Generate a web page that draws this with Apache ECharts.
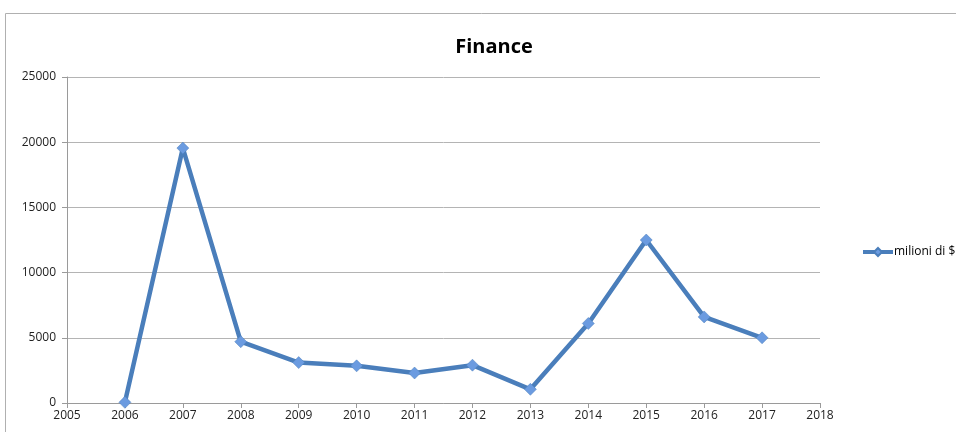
<!DOCTYPE html>
<html><head><meta charset="utf-8">
<script src="https://cdn.jsdelivr.net/npm/echarts@6/dist/echarts.min.js"></script>
<style>html,body{margin:0;padding:0;background:#fff}#c{width:956px;height:432px}</style>
</head><body><div id="c"></div>
<script>
const years = [2006, 2007, 2008, 2009, 2010, 2011, 2012, 2013, 2014, 2015, 2016, 2017];
const values = [50, 19550, 4700, 3100, 2850, 2300, 2900, 1050, 6100, 12500, 6600, 5000];
const seriesName = 'milioni di $';
const chartTitle = 'Finance';

const chart = echarts.init(document.getElementById('c'));
const font = '"Open Sans", "Liberation Sans", sans-serif';
chart.setOption({
  animation: false,
  title: { text: chartTitle, left: 489, textAlign: 'center', top: 32,
    textStyle: { fontFamily: font, fontSize: 20, fontWeight: 'bold', color: '#000' } },
  graphic: [{ type: 'rect', shape: { x: 5.5, y: 13.5, width: 960, height: 440 },
    style: { fill: 'none', stroke: '#b0b0b0', lineWidth: 1 }, silent: true }],
  legend: { orient: 'vertical', left: 856, top: 241, itemWidth: 30, itemHeight: 10, itemGap: 4,
    lineStyle: { width: 4 },
    textStyle: { fontFamily: font, fontSize: 12, color: '#000', padding: [0, 0, 0, -4] },
    data: [{ name: seriesName }] },
  grid: { left: 67, right: 136, top: 77, bottom: 29 },
  xAxis: { type: 'value', min: 2005, max: 2018, interval: 1,
    axisLine: { lineStyle: { color: '#9a9a9a', width: 1 } },
    axisTick: { show: true, length: 5, lineStyle: { color: '#9a9a9a' } },
    splitLine: { show: false },
    axisLabel: { fontFamily: font, fontSize: 12, color: '#222', margin: 7, formatter: v => String(v) } },
  yAxis: { type: 'value', min: 0, max: 25000, interval: 5000,
    axisLine: { show: true, lineStyle: { color: '#9a9a9a', width: 1 } },
    axisTick: { show: true, length: 5, lineStyle: { color: '#9a9a9a' } },
    splitLine: { lineStyle: { color: '#b4b4b4', width: 1 } },
    axisLabel: { fontFamily: font, fontSize: 12, color: '#222', margin: 11, formatter: v => String(v) } },
  series: [{
    name: seriesName, type: 'line',
    data: years.map((y, i) => [y, values[i]]),
    symbol: 'diamond', symbolSize: 12,
    lineStyle: { color: '#4a7ebb', width: 4.5 },
    itemStyle: { color: '#6b9be0', borderColor: '#4a7ebb', borderWidth: 0.5 },
    z: 3
  }]
});
</script></body></html>
